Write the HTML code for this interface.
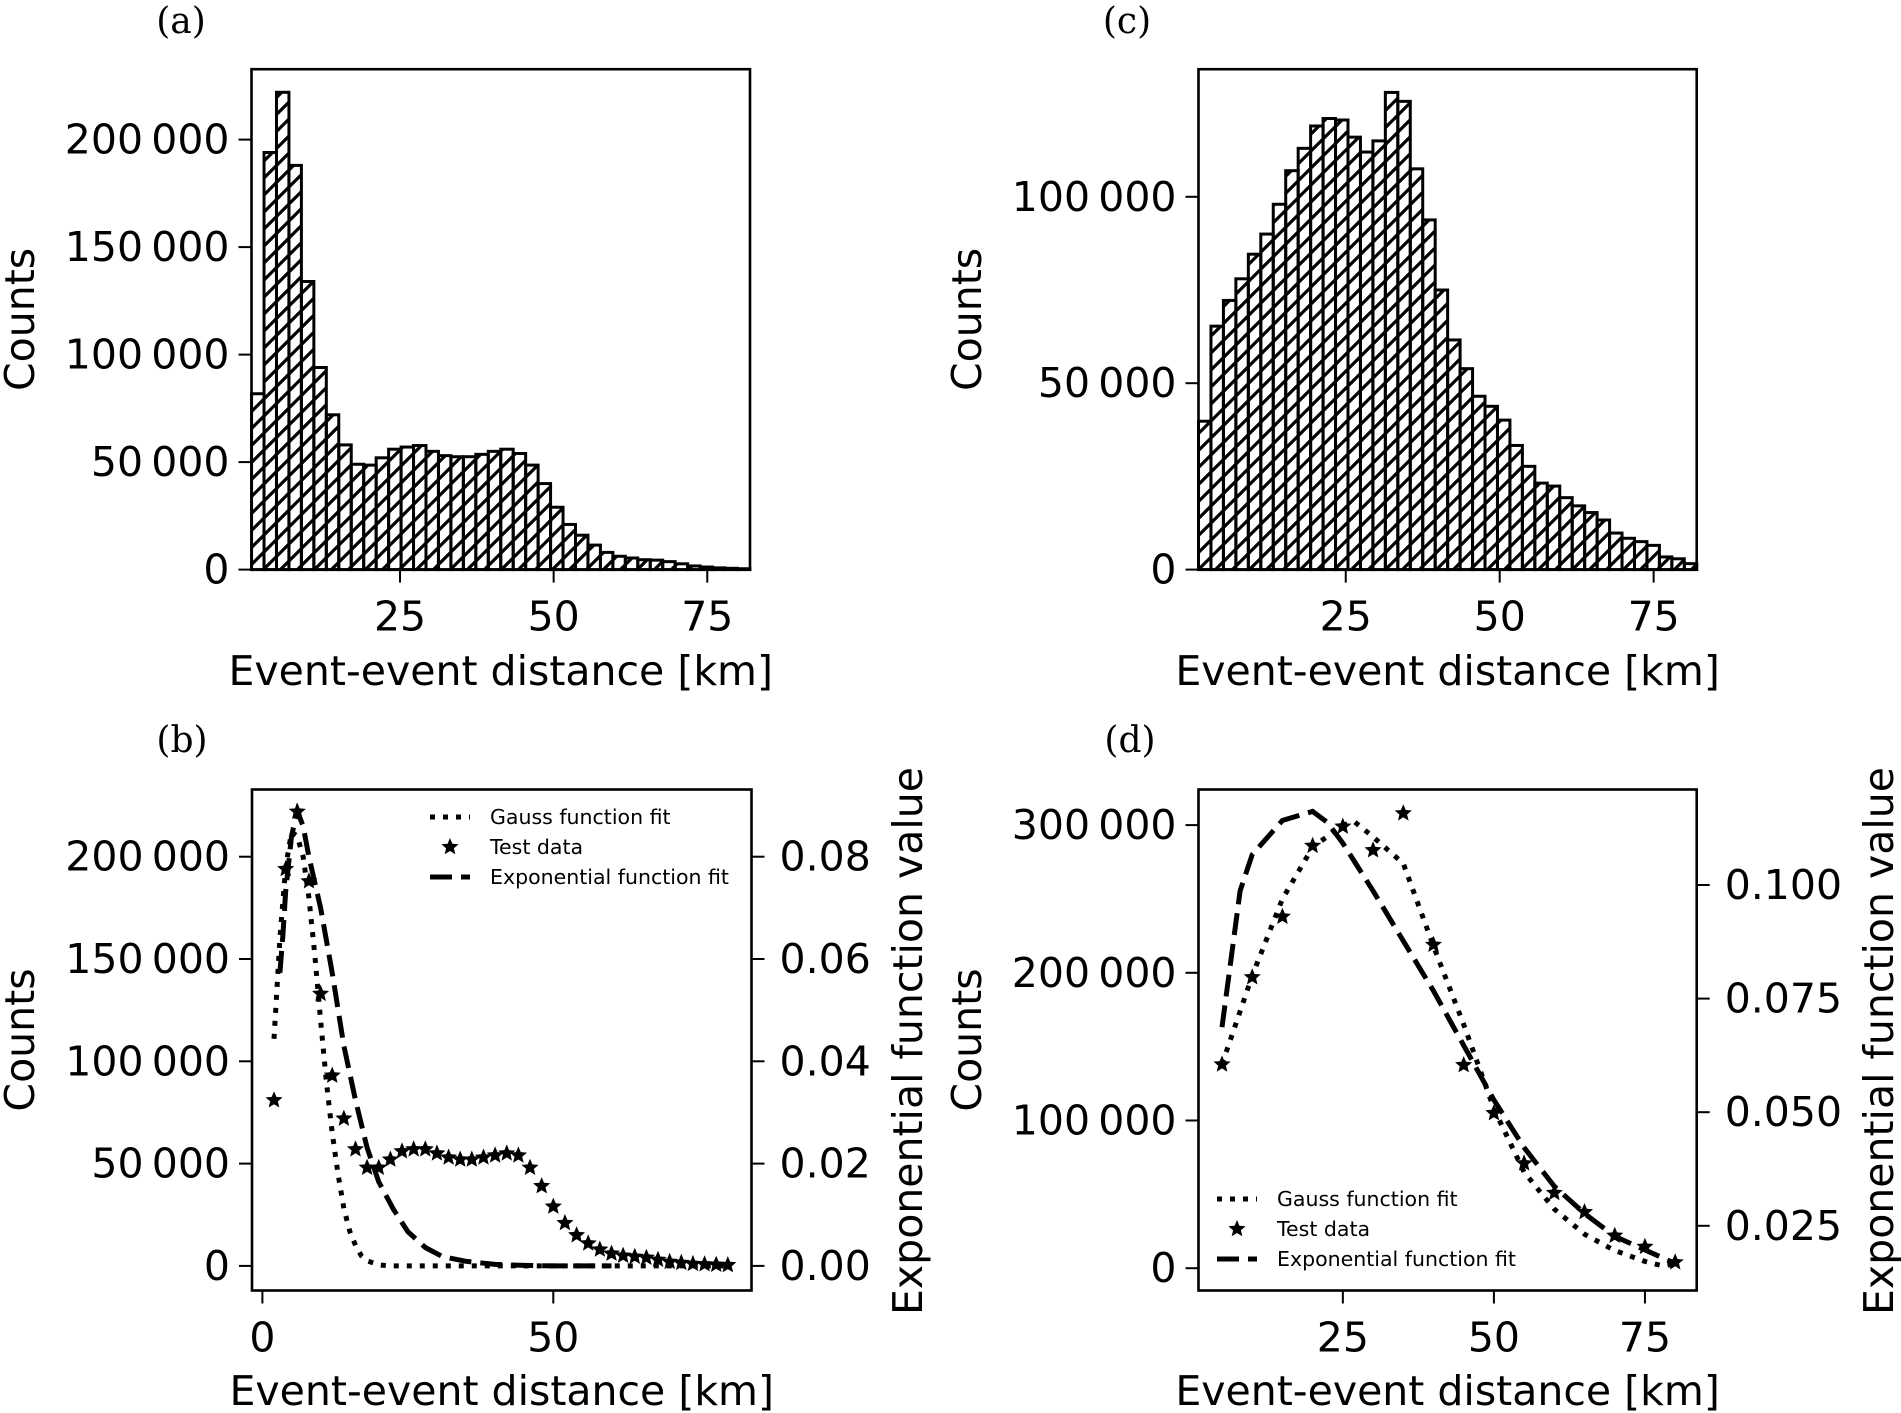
<!DOCTYPE html>
<html><head><meta charset="utf-8"><style>
html,body{margin:0;padding:0;background:#fff;}
svg{display:block;font-family:"DejaVu Sans","Liberation Sans",sans-serif;}
.tk{font-size:41px;fill:#000;}
.pl{font-family:"DejaVu Serif","Liberation Serif",serif;font-size:36px;fill:#000;}
.lg{font-size:20.5px;fill:#000;}
</style></head><body>
<svg id="fig" width="1901" height="1413" viewBox="0 0 1901 1413" xmlns="http://www.w3.org/2000/svg">
<defs>
<pattern id="hatch" patternUnits="userSpaceOnUse" width="17" height="17">
<path d="M-4,4 L4,-4 M0,17 L17,0 M13,21 L21,13" stroke="#000" stroke-width="3.2"/>
</pattern>
</defs>
<g id="root"></g>
</svg>
<script>
// Panel (a) histogram counts (40 bins)
const histA = [81800,194000,222000,188000,134000,94000,72000,58000,49000,48600,52000,56000,57000,57700,55000,53000,52500,52500,53600,55000,56000,54000,48600,40000,29000,21000,16000,11400,8000,6200,5400,4600,4400,3700,2700,1700,1200,800,600,400];
// Panel (c) histogram counts (40 bins)
const histC = [39800,65300,72200,78000,84600,90000,98000,107000,113000,119000,121000,120600,116000,112000,115000,128000,125600,107500,93800,75000,61600,53900,46500,43800,40100,33300,27700,23200,22400,19300,17100,15300,13300,9800,8400,7500,6500,3400,2900,1600];
// Panel (b) test data (x km, counts)
const testBx = [2,4,6,8,10,12,14,16,18,20,22,24,26,28,30,32,34,36,38,40,42,44,46,48,50,52,54,56,58,60,62,64,66,68,70,72,74,76,78,80];
const testBy = [81000,194000,222000,188000,133000,93000,72000,57000,48000,48000,52000,56000,57000,57000,55000,53000,52000,52000,53000,54000,55000,54000,48000,39000,29000,21000,15000,11000,8000,6000,5000,4500,4000,3000,2000,1500,1000,800,600,400];
// Panel (b) Gauss fit
const gaussBx = [2,3,4,5,6,7,8,9,10,11,12,13,14,15,16,17,18,20,22,30,40,50,60,70,80];
const gaussBy = [111000,160000,195000,212000,210000,200000,180000,152000,120000,90000,65000,45000,28000,17000,10000,5000,2500,500,0,0,0,0,0,0,0];
// Panel (b) Exponential fit (right axis)
const expBx = [3,3.5,4,5,6,7,8,10,12,14,16,18,20,22.5,25,28,31,35,40,45,50,55,60];
const expBy = [0.0573,0.0644,0.0733,0.084,0.0889,0.086,0.080,0.070,0.0573,0.043,0.0324,0.0231,0.0164,0.0111,0.0067,0.0036,0.0018,0.0009,0.0003,0.0001,0,0,0];
// Panel (d) test data
const testDx = [5,10,15,20,25,30,35,40,45,50,55,60,65,70,75,80];
const testDy = [138000,197000,238000,286000,299000,283000,308000,219000,137500,105000,71000,51000,38000,22000,14500,4000];
// Panel (d) Gauss fit
const gaussDx = [5,10,15,20,25,27,30,35,40,45,50,55,60,65,70,75,78,80];
const gaussDy = [138000,198000,250000,285000,300000,302000,292000,274000,218000,165000,108000,65000,40000,23000,12000,4600,1500,3000];
// Panel (d) Exponential fit (right axis)
const expDx = [5,8,10,15,20,22.5,25,30,35,40,45,50,55,60,65,70,75,80];
const expDy = [0.0687,0.0987,0.1067,0.1142,0.1162,0.1137,0.1092,0.0987,0.0877,0.0767,0.0647,0.0527,0.0422,0.0337,0.0277,0.0227,0.0197,0.0167];
// tick labels
const ticksA = ["0","50\u2009000","100\u2009000","150\u2009000","200\u2009000"];
const ticksC = ["0","50\u2009000","100\u2009000"];
const ticksB = ["0","50\u2009000","100\u2009000","150\u2009000","200\u2009000"];
const ticksBR = ["0.00","0.02","0.04","0.06","0.08"];
const ticksD = ["0","100\u2009000","200\u2009000","300\u2009000"];
const ticksDR = ["0.025","0.050","0.075","0.100"];
const xTicks75 = [25,50,75];
const xTicksB = [0,50];

const NS="http://www.w3.org/2000/svg";
const root=document.getElementById('root');
const DOT='5 8', DASH='22 9';
function mk(tag,attrs,parent){const e=document.createElementNS(NS,tag);for(const k in attrs)e.setAttribute(k,attrs[k]);(parent||root).appendChild(e);return e;}
function txt(s,x,y,cls,anchor,parent){const e=mk('text',{x:x,y:y,class:cls,'text-anchor':anchor||'middle'},parent);e.textContent=s;return e;}

function panel(cfg){
  const g=mk('g',{});
  
  
  const X=v=>cfg.x0+v*cfg.xs;
  const Y=v=>cfg.y0-v*cfg.ys;
  cfg.X=X;cfg.Y=Y;cfg.g=g;
  return cfg;
}
function frame(p){
  const r=mk('rect',{x:p.L,y:p.T,width:p.R-p.L,height:p.B-p.T,fill:'none',stroke:'#000','stroke-width':2.6},p.g);
  
  
}
function yTicks(p,labels,step){
  labels.forEach((s,i)=>{const y=p.Y(i*step);
    mk('line',{x1:p.L-13,x2:p.L,y1:y,y2:y,stroke:'#000','stroke-width':2},p.g);
    const t=txt(s,p.L-22,y+14,'tk','end',p.g);
    
    });
}
function yTicksR(p,labels,vals,Yr){
  labels.forEach((s,i)=>{const y=Yr(vals[i]);
    mk('line',{x1:p.R,x2:p.R+13,y1:y,y2:y,stroke:'#000','stroke-width':2},p.g);
    const t=txt(s,p.R+28,y+14,'tk','start',p.g);
    
    });
}
function xTicks(p,vals){
  vals.forEach(v=>{const x=p.X(v);
    mk('line',{x1:x,x2:x,y1:p.B,y2:p.B+13,stroke:'#000','stroke-width':2},p.g);
    const t=txt(String(v),x,p.B+61,'tk','middle',p.g);
    
    });
}
function labels(p,lab,lx,ly,ylx,xly){
  const t=txt(lab,lx,ly,'pl','middle',p.g);
  
  
  const xl=txt('Event-event distance [km]',(p.L+p.R)/2,xly,'tk','middle',p.g);
  
  
  const cy=(p.T+p.B)/2;
  const yl=txt('Counts',0,0,'tk','middle',p.g);
  yl.setAttribute('transform','translate('+(ylx)+','+cy+') rotate(-90)');
  
  
}
function hist(p,vals,start,w){
  vals.forEach((v,i)=>{
    const x1=p.X(start+i*w),x2=p.X(start+(i+1)*w),y=p.Y(v);
    const r=mk('rect',{x:x1,y:y,width:x2-x1,height:p.Y(0)-y,fill:'url(#hatch)',stroke:'#000','stroke-width':3},p.g);
    
    
  });
}
function line(p,xs,ys,Yf,dash,name){
  const d=xs.map((x,i)=>(i?'L':'M')+p.X(x).toFixed(1)+','+Yf(ys[i]).toFixed(1)).join(' ');
  const e=mk('path',{d:d,fill:'none',stroke:'#000','stroke-width':5,'stroke-dasharray':dash},p.g);
  
  
}
function starPath(cx,cy,r){let d='';for(let k=0;k<10;k++){const a=-Math.PI/2+k*Math.PI/5;const rr=k%2?r*0.45:r;d+=(k?'L':'M')+(cx+rr*Math.cos(a)).toFixed(1)+','+(cy+rr*Math.sin(a)).toFixed(1);}return d+'Z';}
function stars(p,xs,ys){
  xs.forEach((x,i)=>{const e=mk('path',{d:starPath(p.X(x),p.Y(ys[i]),9),fill:'#000'},p.g);
    
    });
}
function legend(p,lx,ly){
  const g=mk('g',{},p.g);
  
  
  mk('line',{x1:lx,x2:lx+40,y1:ly,y2:ly,stroke:'#000','stroke-width':5,'stroke-dasharray':DOT},g);
  txt('Gauss function fit',lx+60,ly+7,'lg','start',g);
  mk('path',{d:starPath(lx+20,ly+30,9),fill:'#000'},g);
  txt('Test data',lx+60,ly+37,'lg','start',g);
  mk('line',{x1:lx,x2:lx+40,y1:ly+60,y2:ly+60,stroke:'#000','stroke-width':5,'stroke-dasharray':DASH},g);
  txt('Exponential function fit',lx+60,ly+67,'lg','start',g);
}

// Panel a
const pa=panel({name:'panel-a',L:251.5,R:750,T:69.2,B:569.6,x0:246.4,xs:6.145,y0:569.6,ys:107.5/50000});
hist(pa,histA,0.84,2.0275);
frame(pa);yTicks(pa,ticksA,50000);xTicks(pa,xTicks75);
labels(pa,'(a)',181,33,34,685);

// Panel c
const pc=panel({name:'panel-c',L:1198.5,R:1696.7,T:69.2,B:569.6,x0:1191.8,xs:6.158,y0:569.6,ys:186.4/50000});
hist(pc,histC,1.09,2.0228);
frame(pc);yTicks(pc,ticksC,50000);xTicks(pc,xTicks75);
labels(pc,'(c)',1127,33,981,685);

// Panel b
const pb=panel({name:'panel-b',L:252,R:751.5,T:789.5,B:1290.5,x0:262.4,xs:5.818,y0:1265.9,ys:102.3/50000});
const YbR=v=>1265.9-v*102.3/0.02;
line(pb,gaussBx,gaussBy,pb.Y,DOT,'gauss-fit-line');
line(pb,expBx,expBy,YbR,DASH,'exponential-fit-line');
stars(pb,testBx,testBy);
frame(pb);yTicks(pb,ticksB,50000);
yTicksR(pb,ticksBR,[0,0.02,0.04,0.06,0.08],YbR);
xTicks(pb,xTicksB);
labels(pb,'(b)',182,752,34,1405);
legend(pb,430,817);
(function(){const t=txt('Exponential function value',0,0,'tk','middle',pb.g);
t.setAttribute('transform','translate(922,1041) rotate(-90)');

})();

// Panel d
const pd=panel({name:'panel-d',L:1198.5,R:1696.7,T:789.5,B:1290.5,x0:1191.8,xs:6.042,y0:1268.2,ys:147.7/100000});
const YdR=v=>885-(v-0.1)*113.6/0.025;
line(pd,gaussDx,gaussDy,pd.Y,DOT,'gauss-fit-line');
line(pd,expDx,expDy,YdR,DASH,'exponential-fit-line');
stars(pd,testDx,testDy);
frame(pd);yTicks(pd,ticksD,100000);
yTicksR(pd,ticksDR,[0.025,0.05,0.075,0.1],YdR);
xTicks(pd,xTicks75);
labels(pd,'(d)',1130,752,981,1405);
legend(pd,1217,1199);
(function(){const t=txt('Exponential function value',0,0,'tk','middle',pd.g);
t.setAttribute('transform','translate(1893,1041) rotate(-90)');

})();
</script>
</body></html>
